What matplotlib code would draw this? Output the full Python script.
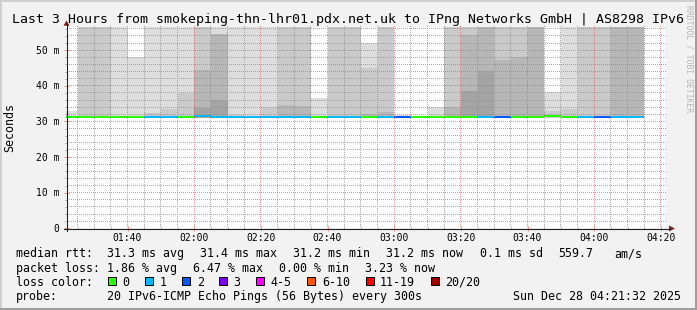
import numpy as np
import matplotlib
matplotlib.use("Agg")
import matplotlib.pyplot as plt
from matplotlib import transforms
from matplotlib.colors import to_rgba
from matplotlib.patches import Polygon, Rectangle
from matplotlib.lines import Line2D

W, H, DPI = 697, 310, 100
MONO = "DejaVu Sans Mono"

title = "Last 3 Hours from smokeping-thn-lhr01.pdx.net.uk to IPng Networks GmbH | AS8298 IPv6"

# graph window and 5 minute slots (first slot starts 01:20)
graph_start = "01:21:32"
graph_end = "04:21:32"
slot_start = "01:20"
slot_len = 5

nan = np.nan
# median rtt per slot, ms
median_ms = [31.3, 31.3, 31.3, 31.3, 31.3, 31.2, 31.3, 31.3, 31.4, 31.3,
             31.3, 31.3, 31.3, 31.3, 31.3, 31.3, 31.3, 31.3, 31.3, 31.3,
             31.2, 31.3, 31.3, 31.3, 31.3, 31.3, 31.3, 31.3, 31.3, 31.4,
             31.3, 31.3, 31.3, 31.3, 31.2]
# lost pings (of 20) per slot
loss = [0, 0, 0, 0, 0, 1, 1, 0, 1, 1,
        1, 1, 1, 1, 1, 0, 1, 1, 0, 1,
        2, 0, 0, 0, 0, 1, 2, 0, 0, 0,
        0, 1, 2, 1, 1]
# smoke band tops (ms), outer band first; 60 = above the top of the graph
smoke_floor = 31.0
smoke1 = [33.0, 60, 60, 60, 48.0, 60, 60, 60, 60, 60,
          60, 60, 60, 60, 60, 36.6, 60, 60, 51.9, 60,
          31.9, nan, 34.0, 60, 60, 60, 60, 60, 60, 38.3,
          60, 60, 60, 60, 60]
smoke2 = [nan, 60, 60, nan, nan, 32.5, 33.4, 37.9, 60, nan,
          31.9, nan, 34.0, 60, 60, nan, 60, 60, 45.1, 60,
          nan, nan, nan, 60, 60, 60, 60, 60, 60, 32.8,
          33.5, 60, 60, 60, 60]
smoke3 = [nan, nan, nan, nan, nan, nan, nan, nan, 44.5, 54.5,
          nan, nan, nan, 34.6, 34.4, nan, nan, nan, 32.0, 32.7,
          nan, nan, nan, 34.0, 54.3, 60, 47.3, 48.0, 60, nan,
          nan, nan, nan, 60, 60]
smoke4 = [nan, nan, nan, nan, nan, nan, nan, nan, 33.9, 35.9,
          nan, nan, nan, nan, nan, nan, nan, nan, nan, nan,
          nan, nan, nan, nan, 38.6, 44.2, nan, nan, nan, nan,
          nan, nan, nan, nan, nan]
smoke_colors = ["#dddddd", "#cacaca", "#b7b7b7", "#a4a4a4"]

loss_labels = ["0", "1", "2", "3", "4-5", "6-10", "11-19", "20/20"]
loss_colors = ["#26ff00", "#00b8ff", "#0059ff", "#7e00ff", "#ff00ff", "#ff5500", "#ff0000", "#a00000"]
loss_limits = [0, 1, 2, 3, 5, 10, 19, 20]

x_ticks = ["01:40", "02:00", "02:20", "02:40", "03:00", "03:20", "03:40", "04:00", "04:20"]
y_ticks = [0, 10, 20, 30, 40, 50]
y_max = 56.6

legend_rows = [
    [("median rtt:", 16.0), ("31.3 ms avg", 107.3), ("31.4 ms max", 200.0), ("31.2 ms min", 292.7),
     ("31.2 ms now", 386.3), ("0.1 ms sd", 479.7), ("559.7", 558.3), ("am/s", 614.3)],
    [("packet loss:", 16.0), ("1.86 % avg", 107.3), ("6.47 % max", 193.3), ("0.00 % min", 279.3),
     ("3.23 % now", 365.3)],
    [("loss color:", 16.0)],
    [("probe:", 16.0), ("20 IPv6-ICMP Echo Pings (56 Bytes) every 300s", 107.3),
     ("Sun Dec 28 04:21:32 2025", 513.0)],
]


def minutes(s):
    p = s.split(":")
    m = int(p[0]) * 60 + int(p[1])
    if len(p) > 2:
        m += int(p[2]) / 60
    return m


def fx(x):
    return x / W


def fy(y):
    return 1 - y / H


t0, t1 = minutes(graph_start), minutes(graph_end)
slot_x = minutes(slot_start) + slot_len * np.arange(len(median_ms))

# rrdtool-ish colours
BACK = "#f2f2f2"
GRID = (0.56, 0.56, 0.56, 0.75)
MGRID = (0.87, 0.31, 0.31, 0.6)
AXIS = "#1f1f1f"
ARROW = "#801f1f"

fig = plt.figure(figsize=(W / DPI, H / DPI), dpi=DPI, facecolor=BACK)
left, right, top, bottom = 66.0, 666.0, 26.7, 228.3
ax = fig.add_axes([fx(left), fy(bottom), (right - left) / W, (bottom - top) / H])
ax.set_facecolor("white")
ax.set_xlim(t0, t1)
ax.set_ylim(0, y_max)

# smoke
for tops, col in zip([smoke1, smoke2, smoke3, smoke4], smoke_colors):
    tops = np.array(tops, dtype=float)
    ax.bar(slot_x, tops - smoke_floor, bottom=smoke_floor, width=slot_len, align="edge",
           color=col, linewidth=0, antialiased=False, zorder=1)

# median band coloured by loss
px_m = y_max / (bottom - top)
med = np.array(median_ms)
med_col = [loss_colors[next(i for i, lim in enumerate(loss_limits) if n <= lim)] for n in loss]
ax.bar(slot_x, 2 * px_m, bottom=med - px_m, width=slot_len, align="edge",
       color=med_col, linewidth=0, antialiased=False, zorder=1.5)

# ticks
major_x = [minutes(t) for t in x_ticks]
minor_x = [m for m in range(85, int(t1) + 1, 5) if m not in major_x]
minor_y = [v for v in range(2, int(y_max) + 1, 2) if v not in y_ticks]
ax.set_xticks(major_x)
ax.set_xticks(minor_x, minor=True)
ax.set_yticks(y_ticks)
ax.set_yticks(minor_y, minor=True)
ax.tick_params(which="minor", length=1.5, width=0.72, color=GRID, direction="inout")
ax.tick_params(which="major", length=3.6, width=0.72, color=MGRID, direction="inout")
ax.tick_params(labelbottom=False, labelleft=False)
for s in ax.spines.values():
    s.set_visible(False)

# dotted grid (1 px on, 1 px off) drawn pixel-exact on top of the smoke
grid = np.zeros((H, W, 4))
xa0, ya0 = ax.transAxes.transform((0, 0))
xa1, ya1 = ax.transAxes.transform((1, 1))
c0, c1 = int(xa0), int(xa1)
r0, r1 = int(H - ya1), int(H - ya0)
for xs, col in [(minor_x, GRID), (major_x, MGRID)]:
    for xv in xs:
        c = int(ax.transData.transform((xv, 0))[0])
        if c0 < c < c1:
            grid[r0:r1:2, c] = col
for ys, col in [(minor_y, GRID), (y_ticks[1:], MGRID)]:
    for yv in ys:
        r = int(H - ax.transData.transform((t0, yv))[1])
        if r0 <= r < r1:
            grid[r, c0 + 1:c1:2] = col
fig.figimage(grid, 0, 0, origin="upper", zorder=0.5)

# tick labels
tx = transforms.offset_copy(transforms.blended_transform_factory(ax.transData, ax.transAxes),
                            fig=fig, x=0, y=-13, units="dots")
for lab in x_ticks:
    ax.text(minutes(lab), 0, lab, transform=tx, ha="center", va="baseline",
            family=MONO, fontsize=7.05, clip_on=False)
ty = transforms.offset_copy(transforms.blended_transform_factory(ax.transAxes, ax.transData),
                            fig=fig, x=-7, y=-3.5, units="dots")
for v in y_ticks:
    ax.text(0, v, f"{v} m" if v else "0", transform=ty, ha="right", va="baseline",
            family=MONO, fontsize=7.05, clip_on=False)

# axes with arrows
fig.add_artist(Line2D([fx(64), fx(670)], [fy(228.5), fy(228.5)], color=AXIS, lw=0.8))
fig.add_artist(Line2D([fx(66.5), fx(66.5)], [fy(230.5), fy(24)], color=AXIS, lw=0.8))
fig.add_artist(Polygon([(fx(669), fy(225.5)), (fx(669), fy(231.5)), (fx(675), fy(228.5))],
                       closed=True, color=ARROW, lw=0))
fig.add_artist(Polygon([(fx(63.5), fy(25.7)), (fx(69.5), fy(25.7)), (fx(66.5), fy(20.5))],
                       closed=True, color=ARROW, lw=0))

# title, axis label, watermark
fig.text(0.5, fy(23.3), title, ha="center", va="baseline", family=MONO, fontsize=9.55)
fig.text(fx(10), fy(127.5), "Seconds", rotation=90, ha="center", va="center",
         family=MONO, fontsize=8.4)
fig.text(fx(688.5), fy(58.5), "RRDTOOL / TOBI OETIKER", rotation=270, ha="center",
         va="center", family=MONO, fontsize=5.8, color="#b4b4b4")

# legend
baselines = [257.3, 271.6, 285.9, 300.2]
for row, yb in zip(legend_rows, baselines):
    for s, x in row:
        fig.text(fx(x), fy(yb), s, ha="left", va="baseline", family=MONO, fontsize=8.4)

bx = 108.3
for lab, col in zip(loss_labels, loss_colors):
    fig.add_artist(Rectangle((fx(bx), fy(285.3)), 8 / W, 8 / H, facecolor=col,
                             edgecolor="black", lw=0.7))
    fig.text(fx(bx + 14.4), fy(baselines[2]), lab, ha="left", va="baseline",
             family=MONO, fontsize=8.4)
    bx = bx + 14.4 + len(lab) * 7.02 + 15.6

# 3d frame
fig.add_artist(Rectangle((0, fy(2)), 1, 2 / H, color="#cfcfcf", lw=0))
fig.add_artist(Rectangle((0, 0), 2 / W, 1, color="#cfcfcf", lw=0))
fig.add_artist(Rectangle((0, 0), 1, 2 / H, color="#9e9e9e", lw=0))
fig.add_artist(Rectangle((1 - 2 / W, 0), 2 / W, 1, color="#9e9e9e", lw=0))

fig.savefig("out.png", dpi=DPI, facecolor=BACK)
